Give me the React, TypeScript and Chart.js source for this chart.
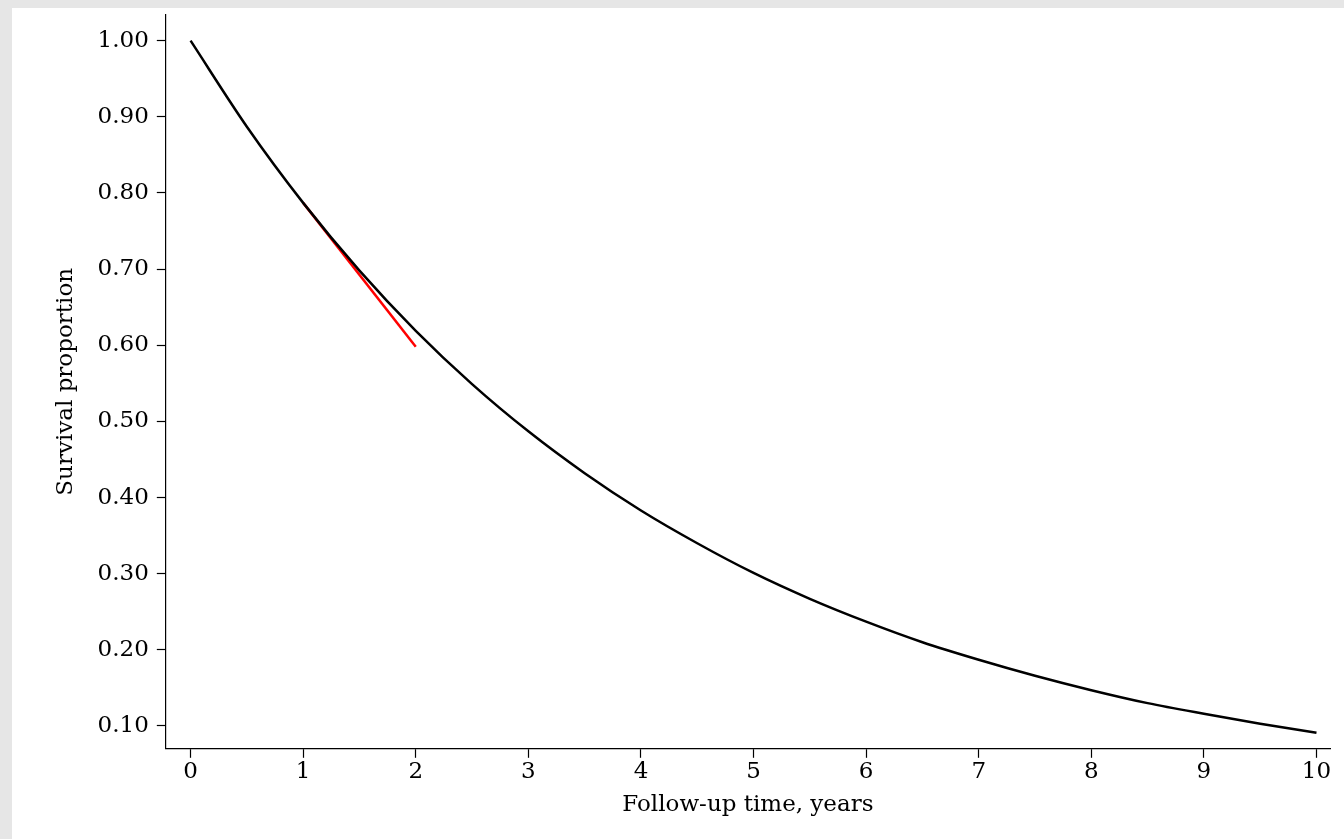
import { useEffect, useRef } from "react";
import Chart from "chart.js/auto";

const years = [0, 0.5, 1, 1.5, 2, 2.5, 3, 3.5, 4, 4.5, 5, 5.5, 6, 6.5, 7, 7.5, 8, 8.5, 9, 9.5, 10];
const survival = [1.0, 0.887, 0.787, 0.698, 0.619, 0.549, 0.487, 0.432, 0.383, 0.34, 0.301, 0.267, 0.237, 0.21, 0.187, 0.166, 0.147, 0.13, 0.116, 0.103, 0.091];
const tangentX = [1, 2];
const tangentY = [0.787, 0.598];
const xTicks = [0, 1, 2, 3, 4, 5, 6, 7, 8, 9, 10];
const yTicks = [0.1, 0.2, 0.3, 0.4, 0.5, 0.6, 0.7, 0.8, 0.9, 1.0];

const FONT = "'DejaVu Serif', 'Liberation Serif', serif";

const App = () => {
  const canvasRef = useRef<any>(null);

  useEffect(() => {
    document.body.style.margin = "0";
    document.body.style.background = "#e6e6e6";
    const chart = new Chart(canvasRef.current.getContext("2d"), {
      type: "line",
      data: {
        datasets: [
          {
            data: years.map((x, i) => ({ x, y: survival[i] })),
            borderColor: "#000",
            borderWidth: 2.5,
            pointRadius: 0,
            cubicInterpolationMode: "monotone",
          },
          {
            data: tangentX.map((x, i) => ({ x, y: tangentY[i] })),
            borderColor: "#ff0000",
            borderWidth: 2.5,
            pointRadius: 0,
          },
        ],
      },
      options: {
        animation: false,
        responsive: false,
        layout: { padding: { top: 0, right: 14, left: 36, bottom: 20 } },
        plugins: { legend: { display: false }, tooltip: { enabled: false } },
        scales: {
          x: {
            type: "linear",
            min: -0.22,
            max: 10.12,
            afterBuildTicks: (s: any) => {
              s.ticks = xTicks.map((v) => ({ value: v }));
            },
            grid: { display: true, drawOnChartArea: false, drawTicks: true, tickLength: 9, tickColor: "#000", tickWidth: 1.2 } as any,
            border: { color: "#000", width: 1.2 },
            ticks: { color: "#000", font: { family: FONT, size: 23 }, maxRotation: 0, padding: 0 },
            title: { display: true, text: "Follow-up time, years", color: "#000", font: { family: FONT, size: 23 }, padding: { top: 6, bottom: 0 } },
          },
          y: {
            min: 0.07,
            max: 1.034,
            afterBuildTicks: (s: any) => {
              s.ticks = yTicks.map((v) => ({ value: v }));
            },
            grid: { display: true, drawOnChartArea: false, drawTicks: true, tickLength: 9, tickColor: "#000", tickWidth: 1.2 } as any,
            border: { color: "#000", width: 1.2 },
            ticks: { color: "#000", font: { family: FONT, size: 23 }, padding: 8, callback: (v: any) => Number(v).toFixed(2) },
            title: { display: true, text: "Survival proportion", color: "#000", font: { family: FONT, size: 23 }, padding: { bottom: 10 } },
          },
        },
      },
    });
    return () => chart.destroy();
  }, []);

  return (
    <div>
      <div style={{ position: "absolute", left: 12, top: -7, width: 1332, height: 846, background: "#fff" }}>
        <canvas ref={canvasRef} width={1332} height={846} />
      </div>
      <div style={{ position: "absolute", left: 0, top: 0, width: 1344, height: 8, background: "#e6e6e6" }} />
    </div>
  );
};

export default App;
